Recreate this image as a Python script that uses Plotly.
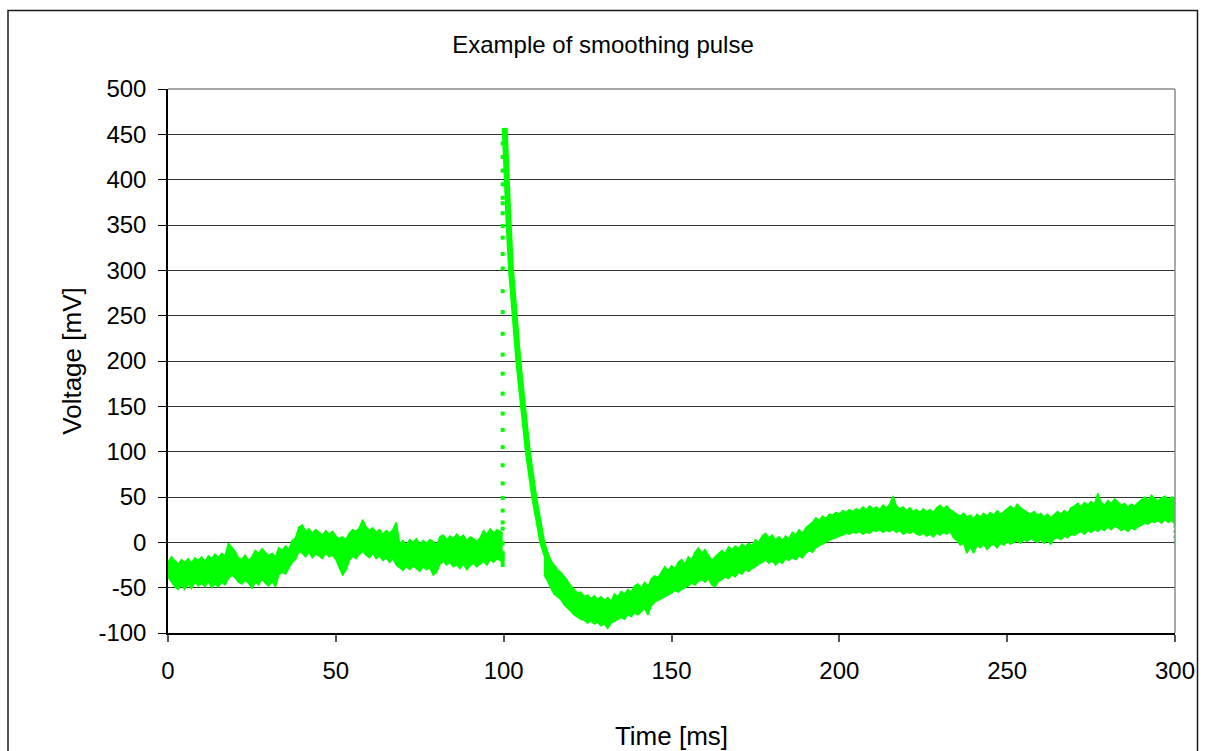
import plotly.graph_objects as go

# ---------------- data ----------------
# Pre-pulse noise band: time [ms], upper and lower edge of the trace [mV]
t_pre = list(range(0, 100)) + [99.7]
pre_upper = [-22, -16, -20, -24, -19, -22, -18, -23, -17, -20,
             -16, -21, -15, -18, -13, -17, -12, -15, -1, -6,
             -10, -17, -19, -14, -20, -16, -9, -12, -7, -11,
             -15, -12, -16, -6, -9, -4, -8, 2, 5, 17,
             19, 12, 15, 10, 14, 11, 8, 13, 9, 12,
             7, 4, 6, 3, 10, 14, 12, 16, 25, 17,
             13, 16, 11, 14, 9, 13, 10, 14, 22, -1,
             2, -3, 3, 0, 4, -2, 2, -1, 3, 1,
             -3, 6, 8, 3, 7, 4, 9, 5, 8, 2,
             6, 4, 1, 5, 13, 9, 15, 10, 14, 12, 10]
pre_lower = [-38, -44, -49, -52, -47, -52, -46, -51, -44, -48,
             -45, -49, -43, -50, -46, -49, -44, -47, -40, -36,
             -39, -44, -46, -42, -45, -51, -44, -47, -40, -45,
             -48, -43, -49, -36, -33, -35, -28, -22, -19, -10,
             -12, -16, -11, -17, -13, -15, -18, -12, -16, -14,
             -19, -28, -36, -31, -20, -15, -18, -13, -10, -14,
             -17, -12, -18, -15, -20, -17, -22, -18, -25, -28,
             -31, -27, -30, -26, -29, -32, -27, -30, -28, -36,
             -33, -24, -21, -25, -22, -27, -25, -29, -24, -30,
             -26, -23, -27, -24, -21, -25, -19, -22, -18, -20, -22]

# Fast rise samples (sparse dots on the leading edge)
t_rise = 99.7
rise_v = [-25, -21, -18, -14, -12, -1, 15, 22, 35, 49, 65, 85, 105, 124, 142,
          164, 186, 207, 230, 254, 277, 302, 318, 336, 349, 363, 374, 380,
          395, 410, 425, 440]

# Decay of the pulse (centre of the trace)
decay_t = [100.3, 100.5, 100.9, 101.5, 102.2, 103.2, 104.4, 105.8, 107.2,
           109.1, 110.3, 111.5, 112.6, 113.8]
decay_v = [457, 430, 398, 350, 300, 250, 199, 149, 100, 50, 25, 0, -13, -25]

# Post-pulse noise band
t_post = list(range(112, 301))
post_upper = [-3, -12, -20, -25, -30, -33, -37, -42, -48, -52,
              -56, -55, -60, -58, -62, -59, -63, -60, -64, -61,
              -65, -57, -60, -54, -57, -52, -55, -48, -46, -50,
              -44, -49, -40, -37, -39, -33, -27, -31, -26, -29,
              -22, -19, -24, -16, -19, -11, -6, -12, -8, -14,
              -20, -16, -13, -9, -12, -5, -8, -4, -7, -2,
              -5, -1, -4, 3, 0, 7, 10, 5, 8, 3,
              6, 2, 7, 4, 11, 8, 14, 10, 16, 19,
              22, 27, 24, 29, 26, 31, 30, 33, 31, 35,
              33, 36, 34, 37, 35, 39, 36, 40, 37, 39,
              36, 41, 38, 42, 51, 40, 37, 39, 35, 38,
              34, 36, 33, 37, 34, 36, 33, 38, 41, 37,
              40, 36, 34, 31, 29, 32, 28, 30, 26, 31,
              28, 32, 29, 33, 30, 35, 31, 34, 37, 40,
              36, 42, 38, 35, 33, 31, 34, 30, 32, 28,
              31, 27, 30, 34, 31, 35, 32, 38, 40, 43,
              39, 44, 41, 45, 42, 54, 44, 41, 46, 43,
              48, 44, 41, 43, 39, 42, 40, 44, 47, 50,
              46, 52, 48, 46, 49, 51, 47, 50, 48]
post_lower = [-36, -42, -50, -57, -60, -63, -69, -72, -76, -80,
              -83, -85, -86, -89, -87, -90, -88, -92, -90, -95,
              -89, -87, -85, -83, -85, -80, -82, -78, -80, -76,
              -73, -80, -70, -66, -64, -62, -60, -58, -56, -53,
              -55, -52, -50, -48, -45, -47, -43, -41, -44, -40,
              -47, -49, -43, -41, -38, -40, -36, -38, -33, -35,
              -30, -32, -29, -27, -24, -22, -19, -23, -20, -25,
              -21, -23, -18, -20, -17, -19, -15, -17, -12, -9,
              -11, -6, -4, -2, 0, 2, 4, 5, 7, 8,
              10, 9, 11, 10, 12, 9, 11, 10, 13, 12,
              14, 11, 13, 12, 14, 11, 13, 9, 11, 10,
              12, 9, 8, 10, 7, 9, 6, 10, 8, 11,
              9, 12, 5, 2, -3, -1, -12, -5, -12, -3,
              -6, -2, -8, -4, -2, -6, -1, -3, 1, -2,
              0, 2, -1, 3, 1, 4, 2, 0, 3, -1,
              2, -2, 4, 5, 3, 7, 5, 9, 8, 10,
              12, 9, 13, 11, 14, 12, 15, 13, 17, 14,
              18, 16, 13, 15, 12, 16, 14, 17, 19, 21,
              20, 23, 22, 24, 21, 25, 22, 24, 20]

# Last samples at the right edge
t_tail = 300
tail_v = [0, 6, 12, 18]

x_ticks = [0, 50, 100, 150, 200, 250, 300]
y_ticks = [-100, -50, 0, 50, 100, 150, 200, 250, 300, 350, 400, 450, 500]

GREEN = "#00ff00"
FONT = "Arial, Liberation Sans, sans-serif"

fig = go.Figure()

# pre-pulse band
fig.add_trace(go.Scatter(x=t_pre, y=pre_lower, mode="lines",
                         line=dict(color=GREEN, width=1.5), hoverinfo="skip",
                         showlegend=False))
fig.add_trace(go.Scatter(x=t_pre, y=pre_upper, mode="lines", fill="tonexty",
                         fillcolor=GREEN, line=dict(color=GREEN, width=1.5),
                         showlegend=False))
# post-pulse band
fig.add_trace(go.Scatter(x=t_post, y=post_lower, mode="lines",
                         line=dict(color=GREEN, width=1.5), hoverinfo="skip",
                         showlegend=False))
fig.add_trace(go.Scatter(x=t_post, y=post_upper, mode="lines", fill="tonexty",
                         fillcolor=GREEN, line=dict(color=GREEN, width=1.5),
                         showlegend=False))
# decay
fig.add_trace(go.Scatter(x=decay_t, y=decay_v, mode="lines",
                         line=dict(color=GREEN, width=6), showlegend=False))
# rise dots
fig.add_trace(go.Scatter(x=[t_rise] * len(rise_v), y=rise_v, mode="markers",
                         marker=dict(color=GREEN, size=4, symbol="square"),
                         showlegend=False))
# tail dots
fig.add_trace(go.Scatter(x=[t_tail] * len(tail_v), y=tail_v, mode="markers",
                         marker=dict(color=GREEN, size=3, symbol="square"),
                         showlegend=False))

L, R, T, B = 168, 31, 89, 118
W, H = 1206, 751
pw, ph = W - L - R, H - T - B

def px_x(p):
    return (p - L) / pw

def px_y(p):
    return (H - B - p) / ph

fig.update_layout(
    width=W, height=H,
    margin=dict(l=L, r=R, t=T, b=B, autoexpand=False),
    paper_bgcolor="white", plot_bgcolor="white",
    font=dict(family=FONT, size=24, color="black"),
    title=dict(text="Example of smoothing pulse", x=0.5, xref="container",
               xanchor="center", y=1 - 45 / H, yref="container",
               yanchor="middle", font=dict(size=24, color="black")),
    xaxis=dict(range=[0, 300], tickvals=x_ticks, ticktext=[str(v) for v in x_ticks],
               showgrid=False, zeroline=False, showline=True, automargin=False,
               linecolor="black", linewidth=1.5, ticks="outside", ticklen=7,
               tickcolor="#555555", tickwidth=1.5, ticklabelstandoff=8,
               title=dict(text="Time [ms]", standoff=44,
                          font=dict(size=26, color="black"))),
    yaxis=dict(range=[-100, 500], tickvals=y_ticks, ticktext=[str(v) for v in y_ticks],
               showgrid=True, gridcolor="#333333", gridwidth=1, zeroline=False,
               showline=True, linecolor="black", linewidth=1.5, ticks="outside",
               automargin=False,
               ticklen=8, tickcolor="black", tickwidth=1.2, ticklabelstandoff=7,
               title=dict(text="Voltage [mV]", standoff=9,
                          font=dict(size=26, color="black"))),
    shapes=[
        # plot-area top and right border (grey)
        dict(type="line", xref="paper", yref="paper", x0=0, x1=1, y0=1, y1=1,
             line=dict(color="#8c8c8c", width=1.5), layer="above"),
        dict(type="line", xref="paper", yref="paper", x0=1, x1=1, y0=0, y1=1,
             line=dict(color="#8c8c8c", width=1.5), layer="above"),
        # outer chart frame
        dict(type="rect", xref="paper", yref="paper",
             x0=px_x(8), x1=px_x(1197.5), y0=px_y(770), y1=px_y(10.5),
             line=dict(color="#1a1a1a", width=1.5), layer="above"),
    ],
)

fig.write_html("out.html")
